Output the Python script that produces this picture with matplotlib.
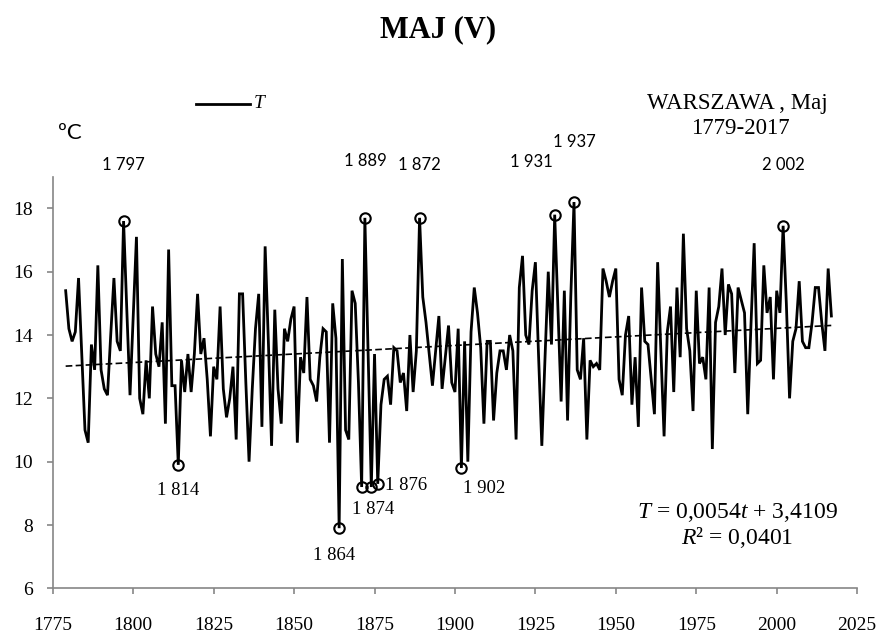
import numpy as np
import matplotlib
matplotlib.use("Agg")
import matplotlib.pyplot as plt

plt.rcParams["mathtext.fontset"] = "custom"
plt.rcParams["mathtext.rm"] = "Liberation Serif"
plt.rcParams["mathtext.it"] = "Liberation Serif:italic"

# ---------------- data ----------------
start_year = 1779
temps = [
    15.4,                                                         # 1779
    14.2, 13.8, 14.1, 15.8, 13.4, 11.0, 10.6, 13.7, 12.9, 16.2,   # 1780-1789
    12.9, 12.3, 12.1, 14.0, 15.8, 13.8, 13.5, 17.6, 14.8, 12.1,   # 1790-1799
    14.6, 17.1, 12.0, 11.5, 13.2, 12.0, 14.9, 13.4, 13.0, 14.4,   # 1800-1809
    11.2, 16.7, 12.4, 12.4, 9.9, 13.2, 12.2, 13.4, 12.2, 13.4,    # 1810-1819
    15.3, 13.4, 13.9, 12.6, 10.8, 13.0, 12.6, 14.9, 12.3, 11.4,   # 1820-1829
    12.0, 13.0, 10.7, 15.3, 15.3, 12.5, 10.0, 12.3, 14.2, 15.3,   # 1830-1839
    11.1, 16.8, 13.8, 10.5, 14.8, 12.3, 11.2, 14.2, 13.8, 14.5,   # 1840-1849
    14.9, 10.6, 13.3, 12.8, 15.2, 12.6, 12.4, 11.9, 13.3, 14.2,   # 1850-1859
    14.1, 10.6, 15.0, 13.9, 7.9, 16.4, 11.0, 10.7, 15.4, 15.0,    # 1860-1869
    12.5, 9.2, 17.7, 13.4, 9.2, 13.4, 9.3, 11.8, 12.6, 12.7,      # 1870-1879
    11.8, 13.6, 13.5, 12.5, 12.8, 11.6, 14.0, 12.2, 13.5, 17.7,   # 1880-1889
    15.2, 14.4, 13.4, 12.4, 13.5, 14.6, 12.3, 13.3, 14.3, 12.5,   # 1890-1899
    12.2, 14.2, 9.8, 13.8, 10.0, 14.1, 15.5, 14.7, 13.6, 11.2,    # 1900-1909
    13.8, 13.8, 11.3, 12.8, 13.5, 13.5, 12.9, 14.0, 13.5, 10.7,   # 1910-1919
    15.5, 16.5, 14.0, 13.7, 15.4, 16.3, 13.3, 10.5, 13.3, 16.0,   # 1920-1929
    13.7, 17.8, 14.8, 11.9, 15.4, 11.3, 15.2, 18.2, 12.9, 12.6,   # 1930-1939
    13.9, 10.7, 13.2, 13.0, 13.1, 12.9, 16.1, 15.7, 15.2, 15.7,   # 1940-1949
    16.1, 12.6, 12.1, 14.0, 14.6, 11.8, 13.3, 11.1, 15.5, 13.8,   # 1950-1959
    13.7, 12.6, 11.5, 16.3, 13.5, 10.8, 14.1, 14.9, 12.2, 15.5,   # 1960-1969
    13.3, 17.2, 14.2, 13.5, 11.6, 15.4, 13.1, 13.3, 12.6, 15.5,   # 1970-1979
    10.4, 14.4, 14.9, 16.1, 14.0, 15.6, 15.3, 12.8, 15.5, 15.1,   # 1980-1989
    14.7, 11.5, 14.3, 16.9, 13.1, 13.2, 16.2, 14.7, 15.2, 12.6,   # 1990-1999
    15.4, 14.7, 17.45, 15.0, 12.0, 13.8, 14.2, 15.7, 13.8, 13.6,  # 2000-2009
    13.6, 14.4, 15.5, 15.5, 14.4, 13.5, 16.1, 14.6,               # 2010-2017
]
years = np.arange(start_year, start_year + len(temps))

trend_slope = 0.0054
trend_intercept = 3.4109

x_ticks = [1775, 1800, 1825, 1850, 1875, 1900, 1925, 1950, 1975, 2000, 2025]
y_ticks = [6, 8, 10, 12, 14, 16, 18]

circled_years = [1797, 1872, 1889, 1931, 1937, 2002, 1814, 1864, 1871, 1874, 1876, 1902]

upper_labels = ["1 797", "1 889", "1 872", "1 931", "1 937", "2 002"]
lower_labels = ["1 814", "1 864", "1 874", "1 876", "1 902"]

# ---------------- layout ----------------
upper_pos = [(1797, 19.37), (1872, 19.5), (1889, 19.37), (1923.8, 19.47), (1937, 20.1), (2002, 19.37)]
lower_pos = [(1814, 9.08, "center"), (1862.5, 7.03, "center"), (1874.5, 8.48, "center"),
             (1878.3, 9.24, "left"), (1902.5, 9.14, "left")]

serif = "Liberation Serif"
sans = "Lato"
axis_grey = "#868686"

fig = plt.figure(figsize=(8.8, 6.37), dpi=100)
ax = fig.add_axes([0.06, 0.0764, 0.914, 0.6462])

temps_arr = np.array(temps)
ax.plot(years, temps_arr, color="black", lw=2.0, solid_joinstyle="miter", zorder=3)

trend_x = np.array([years[0], years[-1]])
ax.plot(trend_x, trend_slope * trend_x + trend_intercept, color="black", lw=1.2,
        dashes=(4, 2), zorder=2)

idx = [int(y - start_year) for y in circled_years]
ax.plot(years[idx], temps_arr[idx], linestyle="none", marker="o", markersize=7.5,
        markerfacecolor="none", markeredgecolor="black", markeredgewidth=1.5, zorder=4)

for txt, (x, y) in zip(upper_labels, upper_pos):
    ax.text(x, y, txt, ha="center", va="center", fontsize=12, family=sans, clip_on=False)
for txt, (x, y, ha) in zip(lower_labels, lower_pos):
    ax.text(x, y, txt, ha=ha, va="center", fontsize=13.5, family=serif, clip_on=False)

ax.set_xlim(1775, 2025)
ax.set_ylim(6, 19)
ax.set_xticks(x_ticks)
ax.set_yticks(y_ticks)
for s in ["top", "right"]:
    ax.spines[s].set_visible(False)
for s in ["left", "bottom"]:
    ax.spines[s].set_color(axis_grey)
    ax.spines[s].set_linewidth(1.2)
ax.tick_params(axis="both", colors=axis_grey, length=4.5, width=1.2, direction="out")
ax.tick_params(axis="x", pad=16, labelcolor="black", labelsize=14)
ax.tick_params(axis="y", pad=10, labelcolor="black", labelsize=14)
for lab in ax.get_xticklabels() + ax.get_yticklabels():
    lab.set_family(serif)

# texts
fig.text(438 / 880, 1 - 30 / 637, "MAJ (V)", ha="center", va="center",
         fontsize=22, fontweight="bold", family=serif)
fig.text(70 / 880, 1 - 133 / 637, "ºC", ha="center", va="center", fontsize=16, family=sans)
fig.add_artist(plt.Line2D([196 / 880, 250 / 880], [1 - 104 / 637, 1 - 104 / 637],
                          color="black", lw=2.0))
fig.text(254 / 880, 1 - 104 / 637, "T", ha="left", va="center", fontsize=14,
         family=serif, style="italic")
fig.text(737 / 880, 1 - 104 / 637, "WARSZAWA , Maj", ha="center", va="center",
         fontsize=16.5, family=serif)
fig.text(740 / 880, 1 - 128 / 637, "1779-2017", ha="center", va="center",
         fontsize=16.5, family=serif)
fig.text(737 / 880, 1 - 512 / 637, r"$\mathit{T}$ = 0,0054$\mathit{t}$ + 3,4109",
         ha="center", va="center", fontsize=17, family=serif)
fig.text(737 / 880, 1 - 537 / 637, r"$\mathit{R}$² = 0,0401", ha="center", va="center",
         fontsize=17, family=serif)

fig.savefig("out.png", dpi=100)
